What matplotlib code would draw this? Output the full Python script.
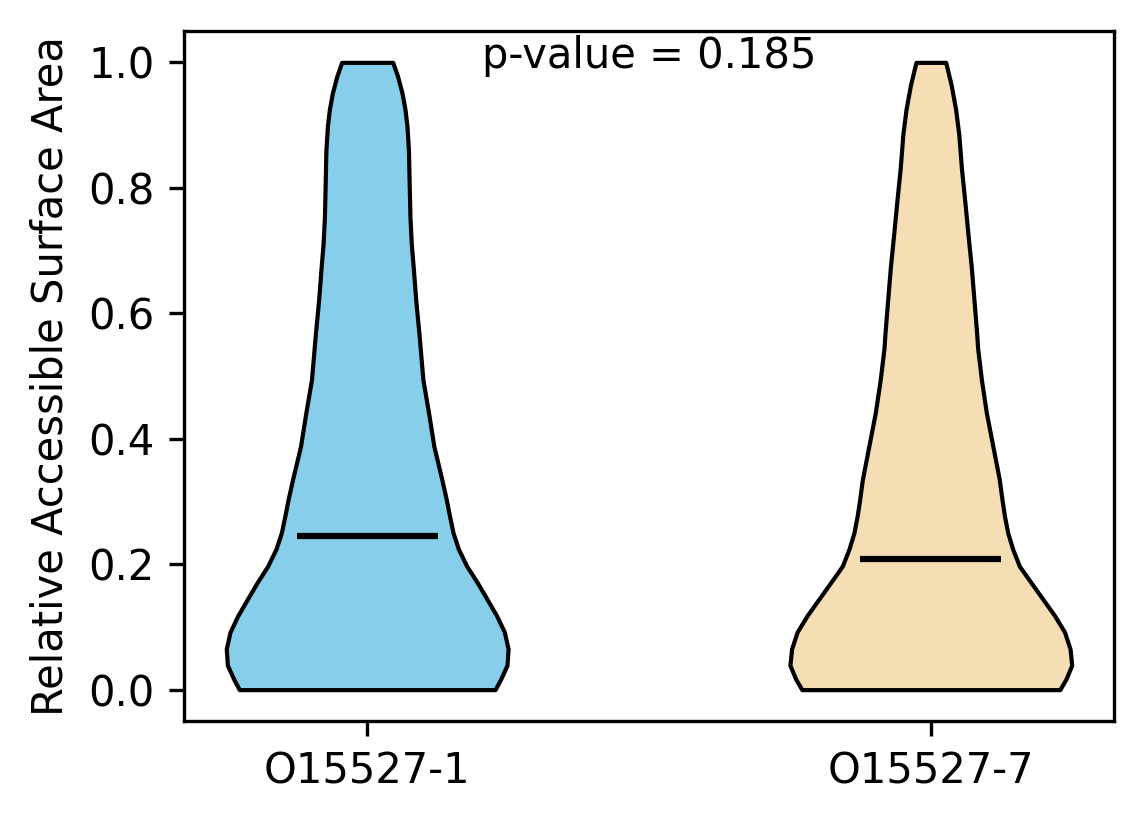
import matplotlib
matplotlib.use("Agg")
import matplotlib.pyplot as plt
import numpy as np

# violin outlines: height (RSA) and relative density
labels = ["O15527-1", "O15527-7"]
colors = ["skyblue", "wheat"]
p_text = "p-value = 0.185"

rsa_1 = [0.0, 0.017, 0.039, 0.065, 0.092, 0.118, 0.144, 0.171, 0.197, 0.224,
         0.25, 0.277, 0.303, 0.335, 0.388, 0.441, 0.494, 0.544, 0.568,
         0.621, 0.673, 0.711, 0.753, 0.806, 0.859, 0.898, 0.925, 0.951,
         0.978, 1.0]
dens_1 = [128.5, 134.2, 140.5, 141.6, 137.8, 130, 120.5, 110.5, 100, 91.7,
          86.3, 82.7, 79.5, 75, 67, 61.7, 56, 53.3, 52,
          48.8, 46.3, 44.3, 43, 42.2, 41.5, 40, 38, 35,
          30.5, 25.7]
mean_1 = 0.245

rsa_7 = [0.0, 0.017, 0.039, 0.065, 0.092, 0.118, 0.144, 0.171, 0.197, 0.224,
         0.25, 0.277, 0.303, 0.335, 0.388, 0.441, 0.494, 0.544, 0.568,
         0.621, 0.673, 0.725, 0.779, 0.832, 0.885, 0.925, 0.964, 1.0]
dens_7 = [130, 136.2, 142, 140.3, 134.7, 124.7, 113, 100.8, 89.2, 82.5,
          77.5, 74.2, 71.7, 69, 62.5, 56, 51, 47.2, 46.2,
          43.5, 40.8, 37.5, 34.2, 30.8, 28.2, 25, 20.5, 15]
mean_7 = 0.208

stats = []
for rsa, dens, m in [(rsa_1, dens_1, mean_1), (rsa_7, dens_7, mean_7)]:
    stats.append(dict(coords=np.array(rsa), vals=np.array(dens), mean=m,
                      median=m, min=min(rsa), max=max(rsa)))

fig = plt.figure(figsize=(1144 / 300, 824 / 300), dpi=300)
ax = fig.add_subplot(111)
fig.subplots_adjust(left=184 / 1144, right=1114 / 1144,
                    top=1 - 31 / 824, bottom=1 - 721 / 824)

parts = ax.violin(stats, positions=[1, 2], widths=0.5,
                  showmeans=True, showextrema=False, showmedians=False)
for body, c in zip(parts["bodies"], colors):
    body.set_facecolor(c)
    body.set_edgecolor("black")
    body.set_linewidth(1)
    body.set_alpha(1)
parts["cmeans"].set_color("black")
parts["cmeans"].set_linewidth(1.5)

ax.set_xticks([1, 2])
ax.set_xticklabels(labels, fontsize=10)
ax.tick_params(axis="y", labelsize=10)
ax.set_ylabel("Relative Accessible Surface Area", fontsize=10)
ax.text(0.5, 0.946, p_text, transform=ax.transAxes, ha="center",
        va="baseline", fontsize=10)

fig.savefig("out.png", dpi=300)
